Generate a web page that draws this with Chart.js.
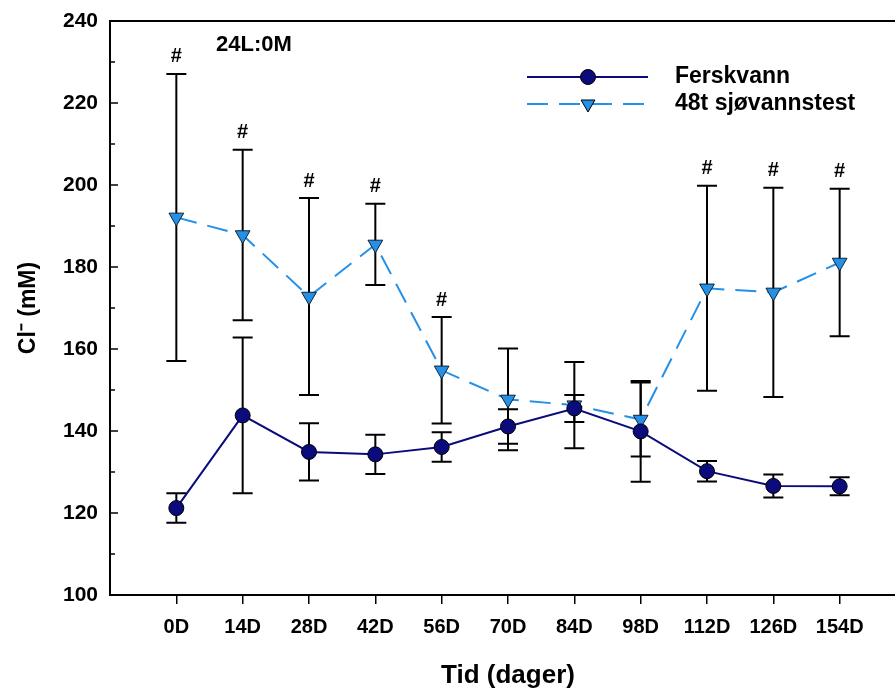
<!DOCTYPE html>
<html>
<head>
<meta charset="utf-8">
<title>Cl- over tid</title>
<script src="https://cdn.jsdelivr.net/npm/chart.js@4.4.0/dist/chart.umd.min.js"></script>
<style>
  html, body { margin: 0; padding: 0; background: #fff; overflow: hidden; }
  #wrap { width: 920px; height: 691px; }
</style>
</head>
<body>
<div id="wrap"><canvas id="cl-chart" width="920" height="691"></canvas></div>
<script>
// Sampling days and Cl- means / SD for both groups
const days = ['0D', '14D', '28D', '42D', '56D', '70D', '84D', '98D', '112D', '126D', '154D'];
const freshMean = [121.2, 143.8, 134.9, 134.3, 136.1, 141.1, 145.5, 139.9, 130.2, 126.6, 126.5];
const freshErr  = [3.6, 19.0, 7.0, 4.8, 3.6, 4.2, 3.3, 12.3, 2.5, 2.8, 2.2];
const seaMean   = [192.1, 187.8, 172.8, 185.5, 154.8, 147.7, 146.3, 142.8, 174.8, 173.8, 181.1];
const seaErr    = [35.0, 20.8, 24.0, 9.9, 13.0, 12.4, 10.5, 9.0, 25.0, 25.5, 18.0];
// # = significant difference from freshwater
const seaSignif = [true, true, true, true, true, false, false, false, true, true, true];
const yTicks = [100, 120, 140, 160, 180, 200, 220, 240];

const FONT = '"Liberation Sans", Arial, Helvetica, sans-serif';
const NAVY = '#0b0b7c';
const SKY = '#2490e8';
const DASH = [21, 11];

const toPoints = (arr) => arr.map((v, i) => ({ x: i, y: v }));

// whiskers + caps, drawn under the markers
const errorBars = {
  id: 'errorBars',
  beforeDatasetsDraw(chart) {
    const { ctx, scales: { x, y } } = chart;
    ctx.save();
    ctx.strokeStyle = '#000';
    ctx.lineWidth = 2;
    [[freshMean, freshErr], [seaMean, seaErr]].forEach(([m, e]) => {
      m.forEach((v, i) => {
        const px = x.getPixelForValue(i);
        const top = y.getPixelForValue(v + e[i]);
        const bot = y.getPixelForValue(v - e[i]);
        ctx.beginPath();
        ctx.moveTo(px, top); ctx.lineTo(px, bot);
        ctx.moveTo(px - 10, top); ctx.lineTo(px + 10, top);
        ctx.moveTo(px - 10, bot); ctx.lineTo(px + 10, bot);
        ctx.stroke();
      });
    });
    ctx.restore();
  }
};

// frame top, inward y ticks, legend, labels
const decorations = {
  id: 'decorations',
  afterDraw(chart) {
    const { ctx, chartArea: a, scales: { x, y } } = chart;
    ctx.save();
    ctx.strokeStyle = '#000';
    ctx.lineWidth = 2;
    ctx.beginPath();
    ctx.moveTo(a.left, a.top); ctx.lineTo(a.right, a.top);
    ctx.stroke();

    ctx.lineWidth = 1.5;
    for (let v = 100; v <= 240; v += 10) {
      const py = y.getPixelForValue(v);
      const len = v % 20 === 0 ? 8 : 5;
      ctx.beginPath();
      ctx.moveTo(a.left, py); ctx.lineTo(a.left + len, py);
      ctx.stroke();
    }

    ctx.fillStyle = '#000';
    ctx.textBaseline = 'middle';
    ctx.textAlign = 'left';
    ctx.font = 'bold 22px ' + FONT;
    ctx.fillText('24L:0M', 216, 45);

    // significance marks above upper caps
    ctx.font = 'bold 20px ' + FONT;
    ctx.textAlign = 'center';
    seaMean.forEach((v, i) => {
      if (!seaSignif[i]) return;
      const px = x.getPixelForValue(i);
      const top = y.getPixelForValue(v + seaErr[i]);
      ctx.fillText('#', px, top - 17);
    });

    // legend
    const rows = [
      { y: 77, color: NAVY, dash: [], style: 'circle', r: 7.5, fill: NAVY, text: 'Ferskvann' },
      { y: 104, color: SKY, dash: DASH, style: 'triangle', r: 8, fill: SKY, text: '48t sjøvannstest' }
    ];
    ctx.font = 'bold 23px ' + FONT;
    rows.forEach(row => {
      ctx.strokeStyle = row.color;
      ctx.lineWidth = 2;
      ctx.setLineDash(row.dash);
      ctx.beginPath();
      ctx.moveTo(527, row.y); ctx.lineTo(648, row.y);
      ctx.stroke();
      ctx.setLineDash([]);
      ctx.fillStyle = row.fill;
      ctx.strokeStyle = '#000';
      ctx.lineWidth = 1;
      Chart.helpers.drawPoint(ctx, {
        pointStyle: row.style, radius: row.r, borderWidth: 1,
        rotation: row.style === 'triangle' ? 180 : 0
      }, 588, row.y);
      ctx.fillStyle = '#000';
      ctx.textAlign = 'left';
      ctx.fillText(row.text, 675, row.y);
    });
    ctx.restore();
  }
};

new Chart(document.getElementById('cl-chart'), {
  type: 'line',
  data: {
    datasets: [
      {
        label: 'Ferskvann',
        data: toPoints(freshMean),
        borderColor: NAVY,
        borderWidth: 2,
        backgroundColor: NAVY,
        pointStyle: 'circle',
        pointRadius: 7.5,
        pointBorderColor: '#000',
        pointBorderWidth: 1,
        tension: 0
      },
      {
        label: '48t sjøvannstest',
        data: toPoints(seaMean),
        borderColor: SKY,
        borderWidth: 2,
        borderDash: DASH,
        backgroundColor: SKY,
        pointStyle: 'triangle',
        pointRotation: 180,
        pointRadius: 8.5,
        pointBorderColor: '#123',
        pointBorderWidth: 1,
        tension: 0
      }
    ]
  },
  options: {
    responsive: false,
    devicePixelRatio: 1,
    animation: false,
    layout: { padding: { top: 21, right: 14, left: 0, bottom: 0 } },
    plugins: { legend: { display: false }, tooltip: { enabled: false } },
    scales: {
      x: {
        type: 'linear',
        min: -1,
        max: 11,
        afterFit(scale) {
          scale.height = 96;
          scale.paddingLeft = 0;
          scale.paddingRight = 0;
        },
        afterBuildTicks(scale) {
          scale.ticks = days.map((d, i) => ({ value: i }));
        },
        border: { display: true, color: '#000', width: 2 },
        grid: { display: true, drawOnChartArea: false, drawTicks: true, tickLength: 9, color: '#000', lineWidth: 1.5 },
        ticks: {
          padding: 11,
          color: '#000',
          font: { family: FONT, size: 20, weight: 'bold' },
          maxRotation: 0,
          autoSkip: false,
          callback: (v) => days[v]
        },
        title: {
          display: true,
          text: 'Tid (dager)',
          color: '#000',
          font: { family: FONT, size: 26, weight: 'bold' },
          padding: { top: 0, bottom: 0 }
        }
      },
      y: {
        min: 100,
        max: 240,
        afterFit(scale) {
          scale.width = 110;
          // keep the plot top fixed by layout padding only
          scale.paddingTop = 0;
          scale.paddingBottom = 0;
        },
        afterBuildTicks(scale) {
          scale.ticks = yTicks.map(v => ({ value: v }));
        },
        border: { display: true, color: '#000', width: 2 },
        grid: { display: true, drawOnChartArea: false, drawTicks: false },
        ticks: {
          padding: 12,
          color: '#000',
          font: { family: FONT, size: 21, weight: 'bold' }
        },
        title: {
          display: true,
          text: 'Cl⁻ (mM)',
          color: '#000',
          font: { family: FONT, size: 23, weight: 'bold' },
          padding: { top: 15 }
        }
      }
    }
  },
  plugins: [errorBars, decorations]
});
</script>
</body>
</html>
